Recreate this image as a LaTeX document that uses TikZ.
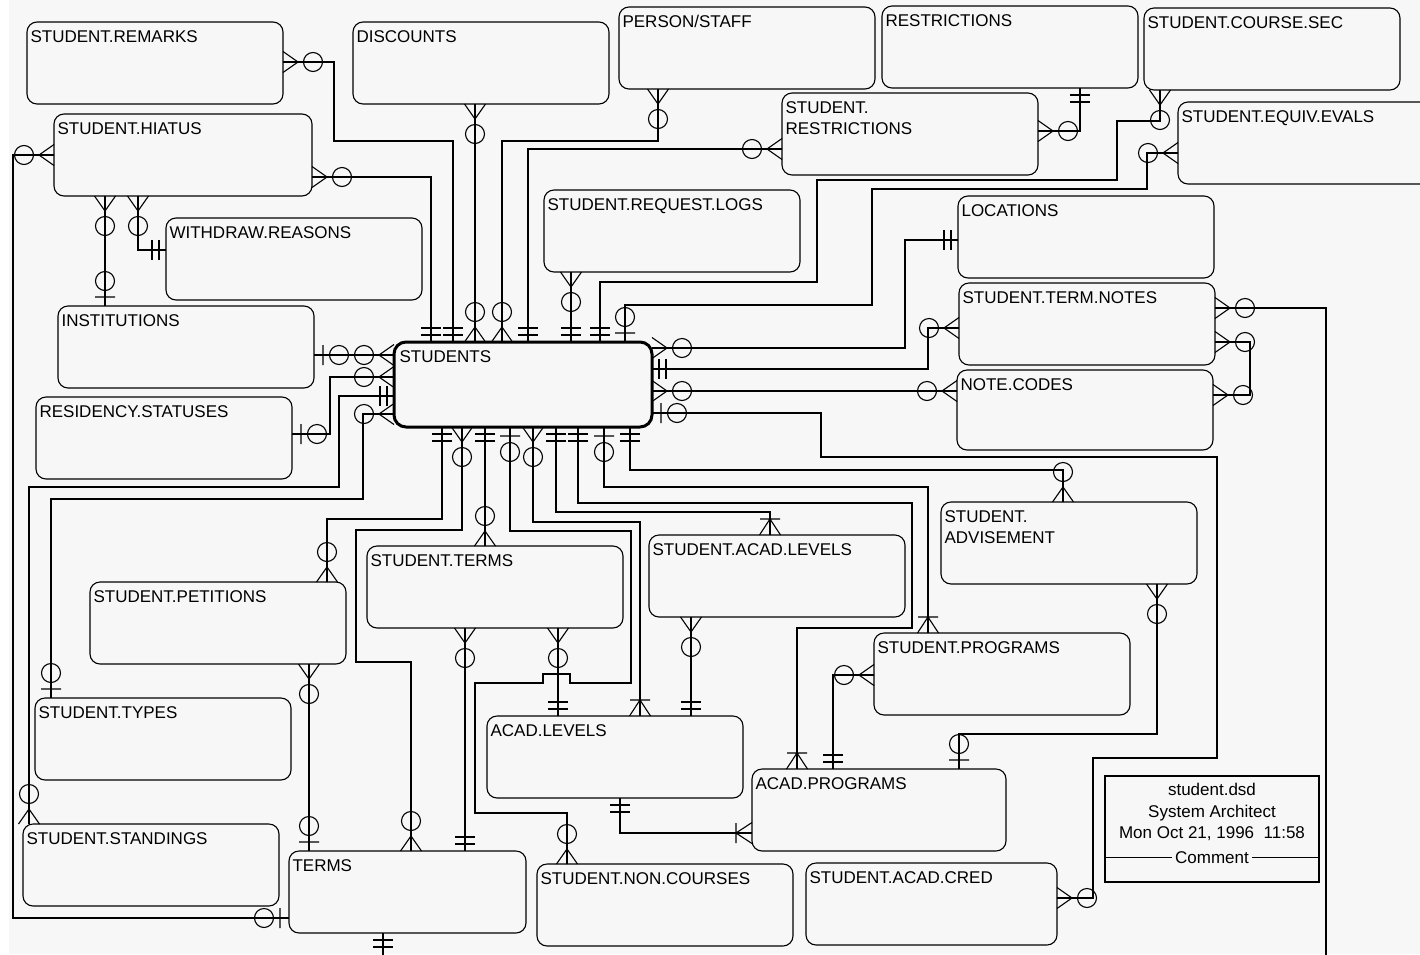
\documentclass[tikz,border=0pt]{standalone}
\usepackage{fontspec}
\setmainfont{Liberation Sans}
\definecolor{paper}{HTML}{F7F7F7}

\begin{document}
\begin{tikzpicture}[
  x=0.5pt, y=-0.5pt,
  line width=0.55pt,
  font=\fontsize{8.5}{10.5}\selectfont,
  ent/.style={draw, rounded corners=5pt, minimum width=128pt, minimum height=41pt,
    anchor=north west, inner sep=0pt, outer sep=0pt},
  lbl/.style={anchor=base west, xshift=1.5pt, yshift=-10pt, inner sep=0pt},
  toN/.style={rotate=90}, toS/.style={rotate=-90}, toW/.style={rotate=180}, toE/.style={},
  zmany/.pic={\draw (0,-10.5) -- (15,0) -- (0,10.5) (0,0) -- (15,0) (30,0) circle[radius=9.5];},
  omany/.pic={\draw (0,-10.5) -- (16,0) -- (0,10.5) (16,-10) -- (16,10);},
  one/.pic={\draw (7,-10) -- (7,10) (14,-10) -- (14,10);},
  zone/.pic={\draw (9,-10) -- (9,10) (25,0) circle[radius=9.5];}
]
\useasboundingbox (0,0) rectangle (1420,954);
\fill[white] (0,0) rectangle (1420,954);
\fill[paper] (9,0) rectangle (1420,954);
\clip (0,0) rectangle (1420,954);

% entities
\node[ent, label={[lbl]north west:STUDENT.REMARKS}] (remarks) at (27,22) {};
\node[ent, label={[lbl]north west:DISCOUNTS}] (discounts) at (353,22) {};
\node[ent, label={[lbl]north west:PERSON/STAFF}] (person) at (619,7) {};
\node[ent, label={[lbl]north west:RESTRICTIONS}] (restr) at (882,6) {};
\node[ent, label={[lbl]north west:STUDENT.COURSE.SEC}] (coursesec) at (1144,8) {};
\node[ent, label={[lbl]north west:STUDENT.EQUIV.EVALS}] (equiv) at (1178,102) {};
\node[ent, label={[lbl]north west:\vtop{\hbox{STUDENT.}\hbox{RESTRICTIONS}}}] (sturestr) at (782,93) {};
\node[ent, minimum width=129pt, label={[lbl]north west:STUDENT.HIATUS}] (hiatus) at (54,114) {};
\node[ent, label={[lbl]north west:WITHDRAW.REASONS}] (withdraw) at (166,218) {};
\node[ent, label={[lbl]north west:STUDENT.REQUEST.LOGS}] (reqlogs) at (544,190) {};
\node[ent, label={[lbl]north west:LOCATIONS}] (locations) at (958,196) {};
\node[ent, label={[lbl]north west:STUDENT.TERM.NOTES}] (termnotes) at (959,283) {};
\node[ent, minimum height=40pt, label={[lbl]north west:NOTE.CODES}] (notecodes) at (957,370) {};
\node[ent, label={[lbl]north west:INSTITUTIONS}] (institutions) at (58,306) {};
\node[ent, label={[lbl]north west:RESIDENCY.STATUSES}] (residency) at (36,397) {};
\node[ent, line width=1.5pt, rounded corners=6pt, minimum width=129pt, minimum height=42.5pt,
  label={[lbl, xshift=1pt]north west:STUDENTS}] (stu) at (394,342) {};
\node[ent, label={[lbl]north west:STUDENT.TERMS}] (stuterms) at (367,546) {};
\node[ent, label={[lbl]north west:STUDENT.ACAD.LEVELS}] (stuacadlev) at (649,535) {};
\node[ent, label={[lbl]north west:\vtop{\hbox{STUDENT.}\hbox{ADVISEMENT}}}] (advise) at (941,502) {};
\node[ent, label={[lbl]north west:STUDENT.PETITIONS}] (petitions) at (90,582) {};
\node[ent, label={[lbl]north west:STUDENT.PROGRAMS}] (stuprog) at (874,633) {};
\node[ent, label={[lbl]north west:STUDENT.TYPES}] (types) at (35,698) {};
\node[ent, label={[lbl]north west:ACAD.LEVELS}] (acadlev) at (487,716) {};
\node[ent, minimum width=127pt, label={[lbl]north west:ACAD.PROGRAMS}] (acadprog) at (752,769) {};
\node[ent, label={[lbl]north west:STUDENT.STANDINGS}] (standings) at (23,824) {};
\node[ent, minimum width=118.5pt, label={[lbl]north west:TERMS}] (terms) at (289,851) {};
\node[ent, label={[lbl]north west:STUDENT.NON.COURSES}] (noncourses) at (537,864) {};
\node[ent, minimum width=125.5pt, label={[lbl]north west:STUDENT.ACAD.CRED}] (acadcred) at (806,863) {};

% top of STUDENTS
\draw (hiatus.east |- 0,177) -| (stu.north -| 431,0);
\pic[toE] at (hiatus.east |- 0,177) {zmany};
\pic[toN] at (stu.north -| 431,0) {one};
\draw (remarks.east |- 0,62) -| (334,141) -| (stu.north -| 453,0);
\pic[toE] at (remarks.east |- 0,62) {zmany};
\pic[toN] at (stu.north -| 453,0) {one};
\draw (discounts.south -| 475,0) -- (stu.north -| 475,0);
\pic[toS] at (discounts.south -| 475,0) {zmany};
\pic[toN] at (stu.north -| 475,0) {zmany};
\draw (person.south -| 658,0) |- (502,141) -- (stu.north -| 502,0);
\pic[toS] at (person.south -| 658,0) {zmany};
\pic[toN] at (stu.north -| 502,0) {zmany};
\draw (sturestr.west |- 0,149) -| (stu.north -| 528,0);
\pic[toW] at (sturestr.west |- 0,149) {zmany};
\pic[toN] at (stu.north -| 528,0) {one};
\draw (reqlogs.south -| 571,0) -- (stu.north -| 571,0);
\pic[toS] at (reqlogs.south -| 571,0) {zmany};
\pic[toN] at (stu.north -| 571,0) {one};
\draw (coursesec.south -| 1160,0) -- (1160,121) -| (1117,180) -| (817,282) -| (stu.north -| 600,0);
\pic[toS] at (coursesec.south -| 1160,0) {zmany};
\pic[toN] at (stu.north -| 600,0) {one};
\draw (equiv.west |- 0,153) -| (1147,189) -| (872,305) -| (stu.north -| 625,0);
\pic[toW] at (equiv.west |- 0,153) {zmany};
\pic[toN] at (stu.north -| 625,0) {zone};

% left of STUDENTS
\draw (institutions.east |- 0,355) -- (stu.west |- 0,355);
\pic[toE] at (institutions.east |- 0,355) {zone};
\pic[toW] at (stu.west |- 0,355) {zmany};
\draw (residency.east |- 0,434) -| (330,377) -- (stu.west |- 0,377);
\pic[toE] at (residency.east |- 0,434) {zone};
\pic[toW] at (stu.west |- 0,377) {zmany};
\draw (standings.north -| 29,0) |- (339,487) |- (stu.west |- 0,396);
\pic[toN] at (standings.north -| 29,0) {zmany};
\pic[toW] at (stu.west |- 0,396) {one};
\draw (types.north -| 51,0) |- (363,499) |- (stu.west |- 0,414);
\pic[toN] at (types.north -| 51,0) {zone};
\pic[toW] at (stu.west |- 0,414) {zmany};

% right of STUDENTS
\draw (locations.west |- 0,240) -| (905,348) -- (stu.east |- 0,348);
\pic[toW] at (locations.west |- 0,240) {one};
\pic[toE] at (stu.east |- 0,348) {zmany};
\draw (termnotes.west |- 0,328) -| (928,369) -- (stu.east |- 0,369);
\pic[toW] at (termnotes.west |- 0,328) {zmany};
\pic[toE] at (stu.east |- 0,369) {one};
\draw (notecodes.west |- 0,391) -- (stu.east |- 0,391);
\pic[toW] at (notecodes.west |- 0,391) {zmany};
\pic[toE] at (stu.east |- 0,391) {zmany};
\draw (acadcred.east |- 0,898) -| (1093,758) -| (1217,457) -| (821,413) -- (stu.east |- 0,413);
\pic[toE] at (acadcred.east |- 0,898) {zmany};
\pic[toE] at (stu.east |- 0,413) {zone};

% bottom of STUDENTS
\draw (stu.south -| 442,0) |- (327,519) -- (petitions.north -| 327,0);
\pic[toS] at (stu.south -| 442,0) {one};
\pic[toN] at (petitions.north -| 327,0) {zmany};
\draw (stu.south -| 462,0) |- (356,530) |- (411,662) -- (terms.north -| 411,0);
\pic[toS] at (stu.south -| 462,0) {zmany};
\pic[toN] at (terms.north -| 411,0) {zmany};
\draw (stu.south -| 485,0) -- (stuterms.north -| 485,0);
\pic[toS] at (stu.south -| 485,0) {one};
\pic[toN] at (stuterms.north -| 485,0) {zmany};
\draw (stu.south -| 510,0) |- (631,531) |- (570,683) -- (570,674) -- (543,674) -- (543,683)
  -| (475,813) -| (noncourses.north -| 567,0);
\pic[toS] at (stu.south -| 510,0) {zone};
\pic[toN] at (noncourses.north -| 567,0) {zmany};
\draw (stu.south -| 533,0) |- (640,522) -- (acadlev.north -| 640,0);
\pic[toS] at (stu.south -| 533,0) {zmany};
\pic[toN] at (acadlev.north -| 640,0) {omany};
\draw (stu.south -| 556,0) |- (770,512) -- (stuacadlev.north -| 770,0);
\pic[toS] at (stu.south -| 556,0) {one};
\pic[toN] at (stuacadlev.north -| 770,0) {omany};
\draw (stu.south -| 578,0) |- (912,503) |- (797,628) -- (acadprog.north -| 797,0);
\pic[toS] at (stu.south -| 578,0) {one};
\pic[toN] at (acadprog.north -| 797,0) {omany};
\draw (stu.south -| 604,0) |- (928,487) -- (stuprog.north -| 928,0);
\pic[toS] at (stu.south -| 604,0) {zone};
\pic[toN] at (stuprog.north -| 928,0) {omany};
\draw (stu.south -| 630,0) |- (1063,470) -- (advise.north -| 1063,0);
\pic[toS] at (stu.south -| 630,0) {one};
\pic[toN] at (advise.north -| 1063,0) {zmany};

% the other links
\draw (hiatus.west |- 0,155) -| (13,918) -- (terms.west |- 0,918);
\pic[toW] at (hiatus.west |- 0,155) {zmany};
\pic[toW] at (terms.west |- 0,918) {zone};
\draw (hiatus.south -| 105,0) -- (institutions.north -| 105,0);
\pic[toS] at (hiatus.south -| 105,0) {zmany};
\pic[toN] at (institutions.north -| 105,0) {zone};
\draw (hiatus.south -| 138,0) |- (withdraw.west |- 0,250);
\pic[toS] at (hiatus.south -| 138,0) {zmany};
\pic[toW] at (withdraw.west |- 0,250) {one};
\draw (restr.south -| 1080,0) |- (sturestr.east |- 0,131);
\pic[toS] at (restr.south -| 1080,0) {one};
\pic[toE] at (sturestr.east |- 0,131) {zmany};
\draw (termnotes.east |- 0,308) -| (1326,960);
\pic[toE] at (termnotes.east |- 0,308) {zmany};
\draw (termnotes.east |- 0,342) -| (1250,395) -- (notecodes.east |- 0,395);
\pic[toE] at (termnotes.east |- 0,342) {zmany};
\pic[toE] at (notecodes.east |- 0,395) {zmany};
\draw (stuterms.south -| 465,0) -- (terms.north -| 465,0);
\pic[toS] at (stuterms.south -| 465,0) {zmany};
\pic[toN] at (terms.north -| 465,0) {one};
\draw (stuterms.south -| 558,0) -- (acadlev.north -| 558,0);
\pic[toS] at (stuterms.south -| 558,0) {zmany};
\pic[toN] at (acadlev.north -| 558,0) {one};
\draw (stuacadlev.south -| 691,0) -- (acadlev.north -| 691,0);
\pic[toS] at (stuacadlev.south -| 691,0) {zmany};
\pic[toN] at (acadlev.north -| 691,0) {one};
\draw (acadlev.south -| 620,0) |- (acadprog.west |- 0,833);
\pic[toS] at (acadlev.south -| 620,0) {one};
\pic[toW] at (acadprog.west |- 0,833) {omany};
\draw (stuprog.west |- 0,675) -| (acadprog.north -| 833,0);
\pic[toW] at (stuprog.west |- 0,675) {zmany};
\pic[toN] at (acadprog.north -| 833,0) {one};
\draw (advise.south -| 1157,0) |- (959,734) -- (acadprog.north -| 959,0);
\pic[toS] at (advise.south -| 1157,0) {zmany};
\pic[toN] at (acadprog.north -| 959,0) {zone};
\draw (petitions.south -| 309,0) -- (terms.north -| 309,0);
\pic[toS] at (petitions.south -| 309,0) {zmany};
\pic[toN] at (terms.north -| 309,0) {zone};
\draw (terms.south -| 383,0) -- (383,960);
\pic[toS] at (terms.south -| 383,0) {one};

% stamp
\node[draw, minimum width=107pt, minimum height=53pt, anchor=north west,
  inner sep=0pt, outer sep=0pt] (stamp) at (1105,776) {};
\node[anchor=base] (stampa) at (1212,795) {student.dsd};
\node[anchor=base] (stampb) at (1212,817) {System Architect};
\node[anchor=base] (stampc) at (1212,838) {Mon Oct 21, 1996\ \ 11:58};
\node[anchor=base, inner sep=1.5pt] (cmt) at (1212,863) {Comment};
\draw (stamp.west |- cmt.west) -- (cmt.west) (cmt.east) -- (stamp.east |- cmt.east);
\end{tikzpicture}
\end{document}
